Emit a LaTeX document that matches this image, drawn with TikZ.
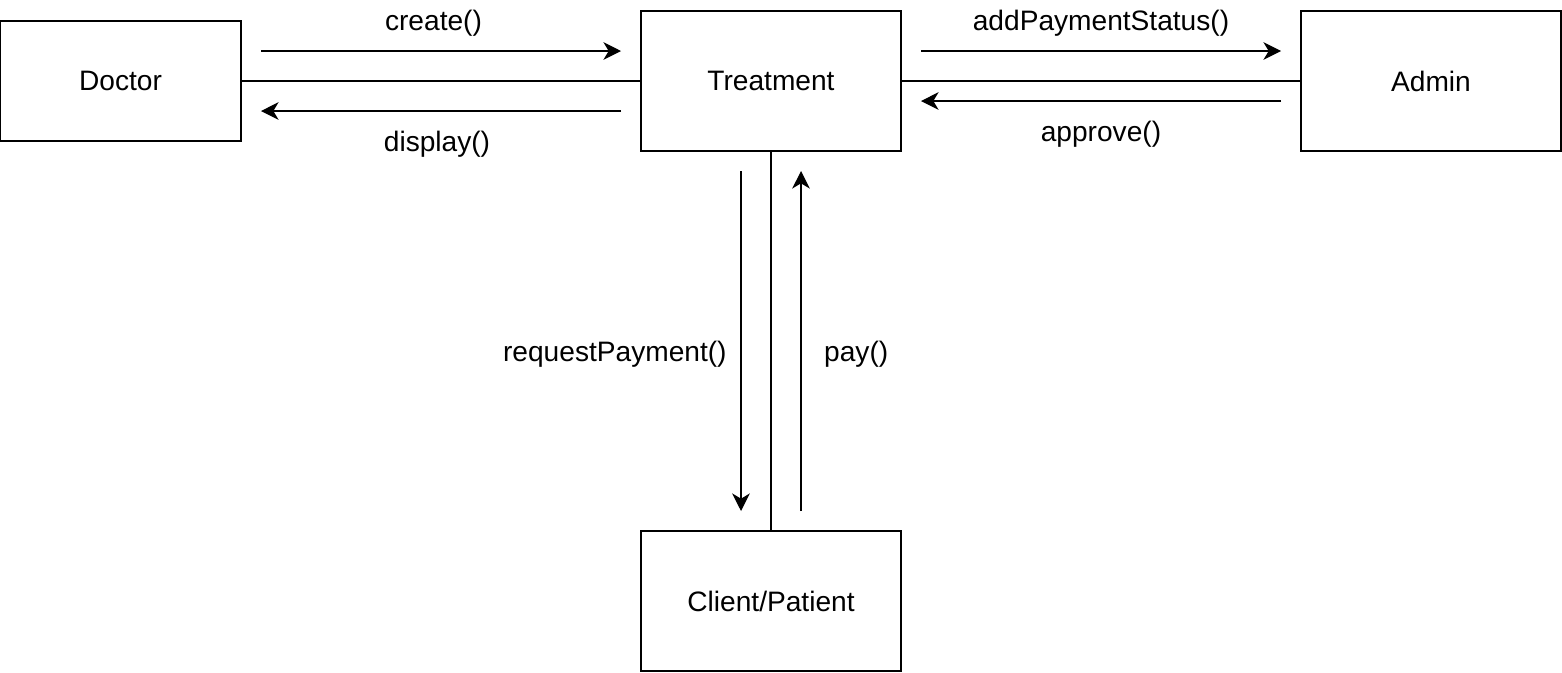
\documentclass[tikz,border=0pt]{standalone}
\usepackage{fontspec}
\setmainfont{Liberation Sans}
\usetikzlibrary{arrows.meta, positioning}

\begin{document}
\begin{tikzpicture}[
		every node/.style={font=\fontsize{16}{19}\selectfont},
		entity/.style={draw, line width=0.75pt, rectangle, minimum width=5.2cm, minimum height=2.8cm, inner sep=0pt},
		link/.style={line width=0.75pt},
		msg/.style={-{Stealth[length=10pt, width=10pt, inset=3pt]}, line width=0.75pt}
		]
		
		% === FRAME ===
		\useasboundingbox (0, 0) rectangle (31.24, -13.44);
		
		% === ENTITIES ===
		\node[entity, minimum width=4.82cm, minimum height=2.4cm] (doctor) at (2.41, -1.62) {Doctor};
		\node[entity] (treatment) at (15.42, -1.62) {Treatment};
		\node[entity] (admin) at (28.62, -1.62) {Admin};
		\node[entity] (client) at (15.42, -12.02) {Client/Patient};
		
		% === ASSOCIATIONS ===
		\draw[link] (doctor) -- (treatment);
		\draw[link] (treatment) -- (admin);
		\draw[link] (treatment) -- (client);
		
		% === MESSAGE END POINTS ===
		\coordinate (createS) at (5.22, -1.02);
		\coordinate (createE) at (12.42, -1.02);
		\coordinate (displayS) at (12.42, -2.22);
		\coordinate (displayE) at (5.22, -2.22);
		\coordinate (statusS) at (18.42, -1.02);
		\coordinate (statusE) at (25.62, -1.02);
		\coordinate (approveS) at (25.62, -2.02);
		\coordinate (approveE) at (18.42, -2.02);
		\coordinate (requestS) at (14.82, -3.42);
		\coordinate (requestE) at (14.82, -10.22);
		\coordinate (payS) at (16.02, -10.22);
		\coordinate (payE) at (16.02, -3.42);
		
		% === MESSAGES ===
		\draw[msg] (createS) -- node[above=4.5pt, xshift=-0.15cm] (createLbl) {create()} (createE);
		\draw[msg] (displayS) -- node[below=7.5pt, xshift=-0.08cm] (displayLbl) {display()} (displayE);
		\draw[msg] (statusS) -- node[above=4.5pt] (statusLbl) {addPaymentStatus()} (statusE);
		\draw[msg] (approveS) -- node[below=7.5pt] (approveLbl) {approve()} (approveE);
		\draw[msg] (requestS) -- node[pos=0.54, left=4.5pt] (requestLbl) {requestPayment()} (requestE);
		\draw[msg] (payS) -- node[pos=0.46, right=9.5pt] (payLbl) {pay()} (payE);
		
	\end{tikzpicture}
\end{document}
